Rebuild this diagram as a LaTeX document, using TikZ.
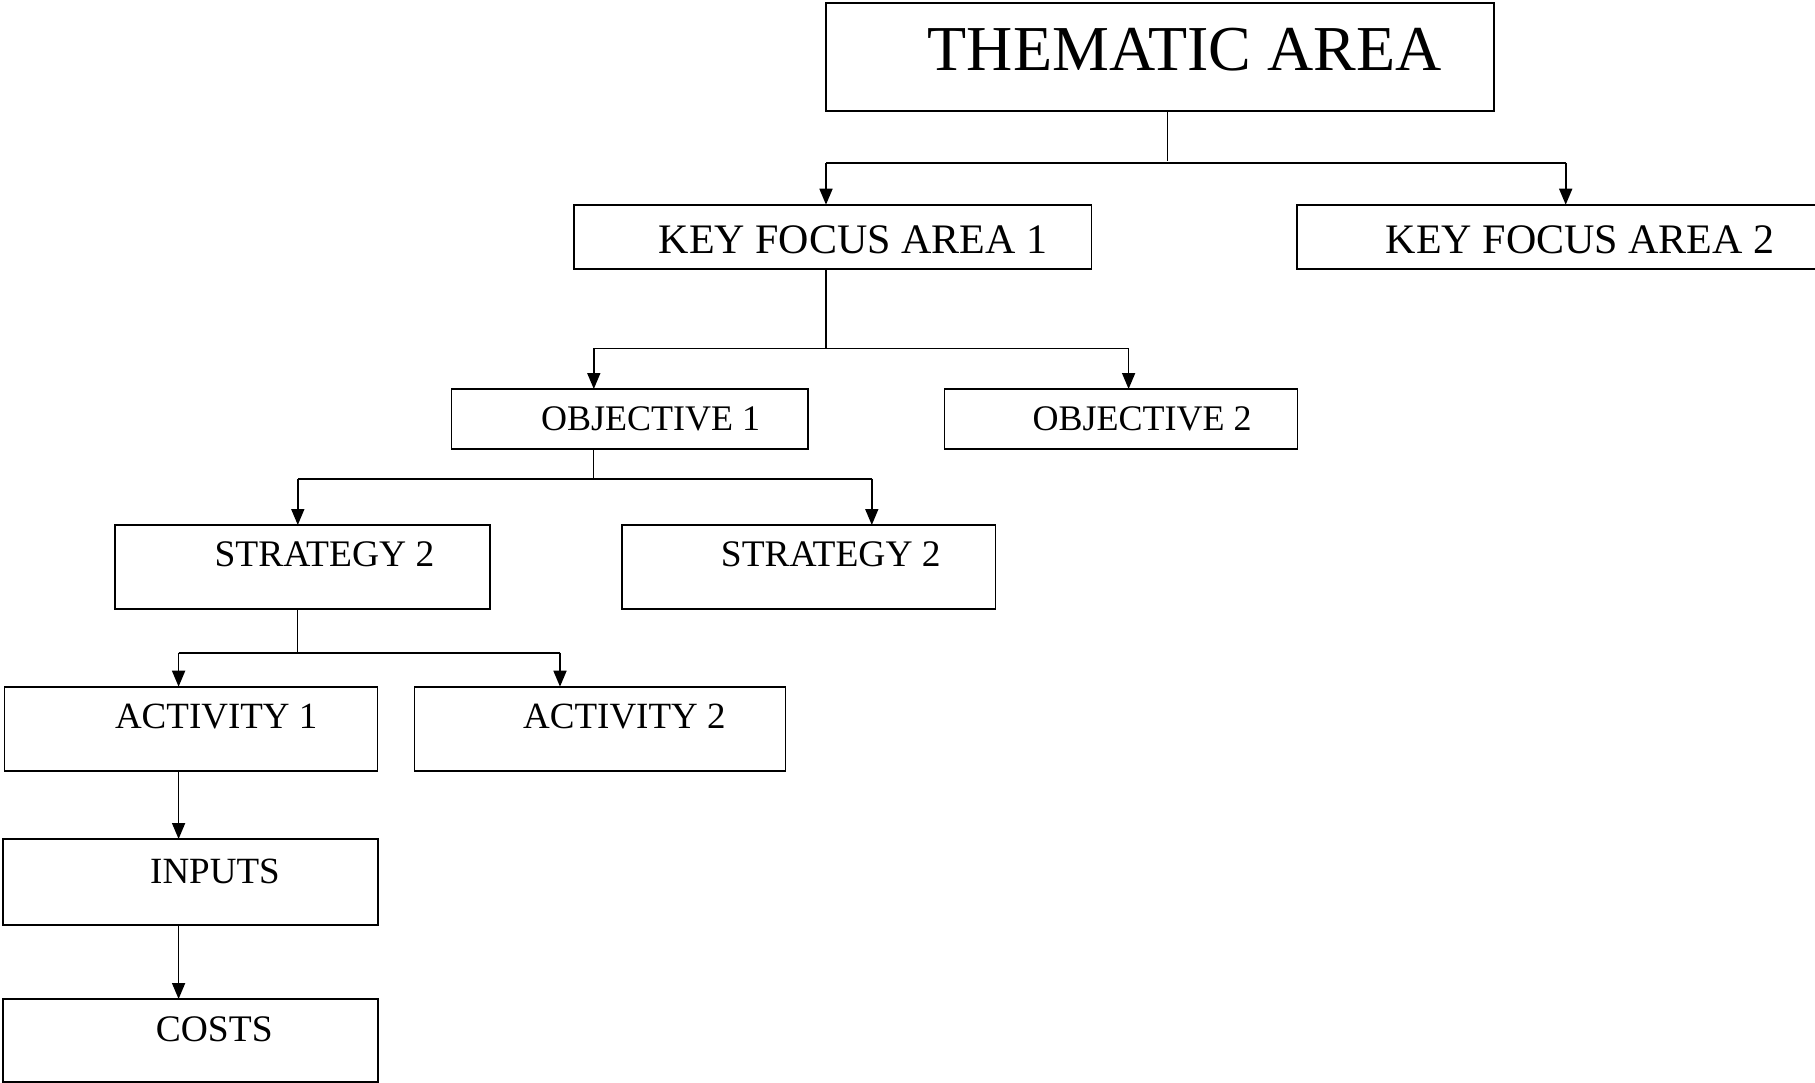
\documentclass[tikz,border=0pt]{standalone}
\usepackage{fontspec}
\setmainfont{Liberation Serif}
\usetikzlibrary{arrows.meta}
\begin{document}
\begin{tikzpicture}[x=1pt,y=-1pt,
  box/.style={draw, line width=1.9pt, rectangle, anchor=north west, inner sep=0pt, outer sep=0pt},
  lbl/.style={anchor=base west, inner sep=0pt},
  conn/.style={line width=1.7pt},
  stem/.style={line width=1.3pt},
  arr/.style={line width=1.7pt, -{Triangle[length=16pt,width=13pt]}}]
\useasboundingbox (0,0) rectangle (1815,1083);
% boxes
\node[box, minimum width=668pt, minimum height=108pt] (them) at (826,2.7) {};
\node[box, minimum width=517.5pt, minimum height=64pt] (kfa1) at (574,204.7) {};
\node[box, minimum width=530pt, minimum height=64pt] (kfa2) at (1297,204.7) {};
\node[box, minimum width=356.5pt, minimum height=60pt] (obj1) at (451.5,389) {};
\node[box, minimum width=353pt, minimum height=60pt] (obj2) at (944.5,389) {};
\node[box, minimum width=374.4pt, minimum height=84pt] (str1) at (115.4,525) {};
\node[box, minimum width=373.7pt, minimum height=84pt] (str2) at (621.8,525) {};
\node[box, minimum width=373pt, minimum height=84pt] (act1) at (4.5,686.7) {};
\node[box, minimum width=371pt, minimum height=84pt] (act2) at (414.5,686.7) {};
\node[box, minimum width=374.7pt, minimum height=85.7pt] (inp) at (3.3,839) {};
\node[box, minimum width=374.7pt, minimum height=83pt] (cost) at (3.3,999) {};
% labels
\node[lbl, font=\fontsize{64}{70}\selectfont] (themt) at (927.5,70.7) {THEMATIC AREA};
\node[lbl, font=\fontsize{42}{48}\selectfont] (kfa1t) at (658.6,253.3) {KEY FOCUS AREA 1};
\node[lbl, font=\fontsize{42}{48}\selectfont] (kfa2t) at (1385.7,253.3) {KEY FOCUS AREA 2};
\node[lbl, font=\fontsize{36}{42}\selectfont] (obj1t) at (541,430.7) {OBJECTIVE 1};
\node[lbl, font=\fontsize{36}{42}\selectfont] (obj2t) at (1032.5,430.7) {OBJECTIVE 2};
\node[lbl, font=\fontsize{37.5}{42}\selectfont] (str1t) at (214.3,566.7) {STRATEGY 2};
\node[lbl, font=\fontsize{37.5}{42}\selectfont] (str2t) at (720.7,566.7) {STRATEGY 2};
\node[lbl, font=\fontsize{37}{42}\selectfont] (act1t) at (114.8,728.3) {ACTIVITY 1};
\node[lbl, font=\fontsize{37}{42}\selectfont] (act2t) at (523,728.3) {ACTIVITY 2};
\node[lbl, font=\fontsize{37}{42}\selectfont] (inpt) at (150,883.3) {INPUTS};
\node[lbl, font=\fontsize{37.5}{42}\selectfont] (costt) at (155.7,1041.7) {COSTS};
% junctions
\coordinate (j1) at (1167.6,162.7);
\coordinate (b1l) at (826,162.7);
\coordinate (b1r) at (1565.7,162.7);
\coordinate (j2) at (826,348.4);
\coordinate (b2l) at (593.8,348.4);
\coordinate (b2r) at (1128.6,348.4);
\coordinate (j3) at (593.8,478.7);
\coordinate (b3l) at (297.8,478.7);
\coordinate (b3r) at (871.8,478.7);
\coordinate (j4) at (297.8,652.7);
\coordinate (b4l) at (178.6,652.7);
\coordinate (b4r) at (560,652.7);
% connectors
\draw[stem] (them.south -| j1) -- ([yshift=2pt]j1);
\draw[conn] (b1l) -- (b1r);
\draw[arr] (b1l) -- (b1l |- kfa1.north);
\draw[arr] (b1r) -- (b1r |- kfa2.north);
\draw[stem] (kfa1.south -| j2) -- (j2);
\draw[conn] (b2l) -- (b2r);
\draw[arr] (b2l) -- (b2l |- obj1.north);
\draw[arr] (b2r) -- (b2r |- obj2.north);
\draw[stem] (obj1.south -| j3) -- (j3);
\draw[conn] (b3l) -- (b3r);
\draw[arr] (b3l) -- (b3l |- str1.north);
\draw[arr] (b3r) -- (b3r |- str2.north);
\draw[stem] (str1.south -| j4) -- (j4);
\draw[conn] (b4l) -- (b4r);
\draw[arr] (b4l) -- (b4l |- act1.north);
\draw[arr] (b4r) -- (b4r |- act2.north);
\draw[arr] (act1.south -| b4l) -- (inp.north -| b4l);
\draw[arr] (inp.south -| b4l) -- (cost.north -| b4l);
\end{tikzpicture}
\end{document}
